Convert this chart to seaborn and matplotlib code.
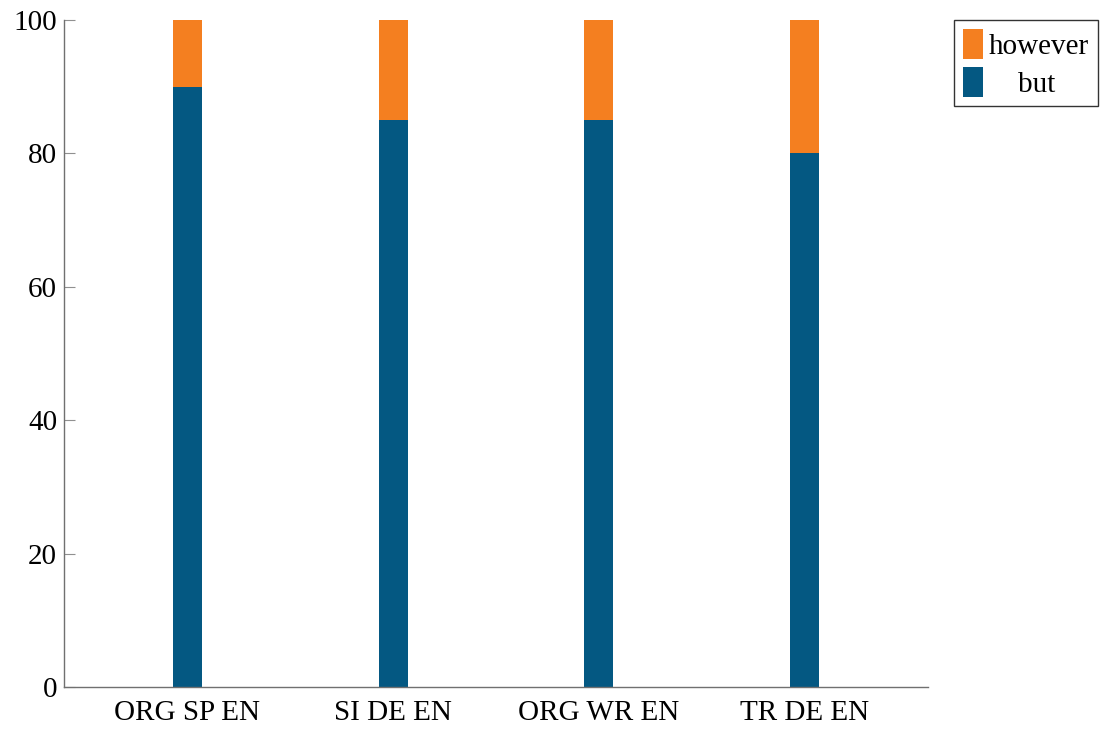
import pandas as pd
import seaborn as sns
import matplotlib.pyplot as plt

# dados
categorias = ["ORG SP EN", "SI DE EN", "ORG WR EN", "TR DE EN"]
but = [90, 85, 85, 80]
however = [10, 15, 15, 20]

df = pd.DataFrame({"categoria": categorias, "but": but, "however": however})
df["total"] = df["but"] + df["however"]

sns.set_style("white")
plt.rcParams["font.family"] = ["Liberation Serif", "DejaVu Serif"]
plt.rcParams["text.color"] = "black"

fig = plt.figure(figsize=(11.06, 7.30), dpi=100)
ax = fig.add_axes([0.0579, 0.0589, 0.7811, 0.9137])

cor_however = "#F47F20"
cor_but = "#045882"

# barras empilhadas: total (laranja) por baixo, "but" por cima
sns.barplot(data=df, x="categoria", y="total", color=cor_however, width=0.14,
            saturation=1, linewidth=0, label="however", ax=ax)
sns.barplot(data=df, x="categoria", y="but", color=cor_but, width=0.14,
            saturation=1, linewidth=0, label="but", ax=ax)

ax.set_xlim(-0.6, 3.6)
ax.set_ylim(0, 100)
ax.set_yticks([0, 20, 40, 60, 80, 100])
ax.set_xlabel("")
ax.set_ylabel("")

for lado in ["top", "right"]:
    ax.spines[lado].set_visible(False)
for lado in ["left", "bottom"]:
    ax.spines[lado].set_color("#707070")
    ax.spines[lado].set_linewidth(1)

ax.tick_params(axis="y", left=True, direction="in", length=8, width=0.8,
               color="#909090", labelsize=21, labelcolor="black", pad=5)
ax.tick_params(axis="x", bottom=False, length=0, labelsize=21,
               labelcolor="black", pad=9)

handles, labels = ax.get_legend_handles_labels()
# centrar "but" sob "however" como no original
labels = [lab if lab == "however" else "    " + lab for lab in labels]
leg = ax.legend(handles, labels, loc="upper left", bbox_to_anchor=(1.03, 1.0),
                fontsize=21, frameon=True, fancybox=False, edgecolor="black",
                handlelength=0.7, handleheight=1.2, handletextpad=0.2,
                borderpad=0.3, labelspacing=0.25, borderaxespad=0)
leg.get_frame().set_linewidth(1)

fig.savefig("out.png", dpi=100)
